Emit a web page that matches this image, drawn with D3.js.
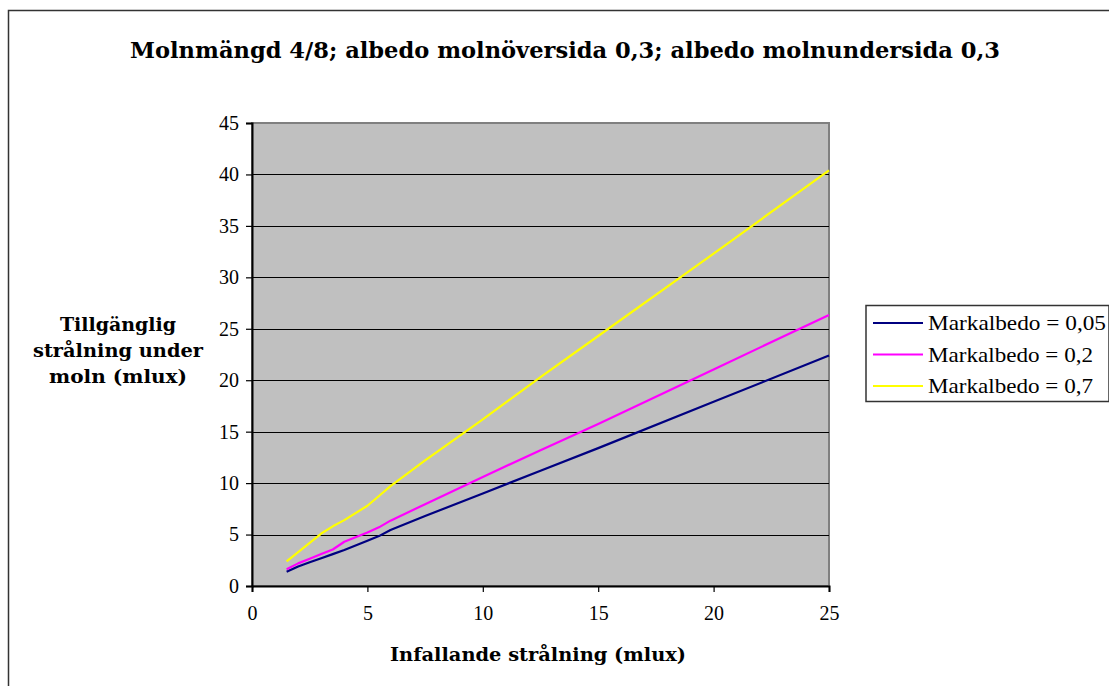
<!DOCTYPE html>
<html>
<head>
<meta charset="utf-8">
<script src="https://cdn.jsdelivr.net/npm/d3@7"></script>
<style>
  html, body { margin: 0; padding: 0; background: #fff; }
  svg { display: block; }
</style>
</head>
<body>
<script>
// Incoming radiation (mlux)
const xValues = [1.5, 2, 2.5, 3, 3.5, 4, 5, 5.5, 6, 7.5, 10, 12.5, 15, 20, 25];
// Radiation available under cloud (mlux), one series per ground albedo
const albedo005 = [1.39, 1.9, 2.3, 2.7, 3.1, 3.5, 4.4, 4.85, 5.45, 6.8, 9.0, 11.2, 13.4, 17.9, 22.4];
const albedo02  = [1.62, 2.2, 2.65, 3.1, 3.55, 4.3, 5.2, 5.7, 6.35, 7.95, 10.6, 13.2, 15.75, 21.05, 26.35];
const albedo07  = [2.4, 3.3, 4.2, 5.1, 5.8, 6.4, 7.8, 8.75, 9.7, 12.2, 16.2, 20.3, 24.3, 32.3, 40.4];
const seriesNames = ["Markalbedo = 0,05", "Markalbedo = 0,2", "Markalbedo = 0,7"];
const seriesColors = ["#000080", "#FF00FF", "#FFFF00"];
const xTicks = [0, 5, 10, 15, 20, 25];
const yTicks = [0, 5, 10, 15, 20, 25, 30, 35, 40, 45];

const title = "Molnmängd 4/8; albedo molnöversida 0,3; albedo molnundersida 0,3";
const xTitle = "Infallande strålning (mlux)";
const yTitleLines = ["Tillgänglig", "strålning under", "moln (mlux)"];

const W = 1109, H = 686;
const plot = { left: 252, right: 829, top: 123, bottom: 586 };
const serif = "'Liberation Serif', 'DejaVu Serif', serif";
const headFont = "'DejaVu Serif', serif";

const svg = d3.select("body").append("svg").attr("width", W).attr("height", H);

// Chart frame
svg.append("rect").attr("x", 8.5).attr("y", 10.5).attr("width", W + 20).attr("height", H + 20)
  .attr("fill", "#fff").attr("stroke", "#333").attr("stroke-width", 1.5);

const x = d3.scaleLinear().domain([0, 25]).range([plot.left, plot.right]);
const y = d3.scaleLinear().domain([0, 45]).range([plot.bottom, plot.top]);

// Plot background
svg.append("rect").attr("x", plot.left).attr("y", plot.top)
  .attr("width", plot.right - plot.left).attr("height", plot.bottom - plot.top)
  .attr("fill", "#C0C0C0").attr("stroke", "#808080").attr("stroke-width", 2);

// Horizontal gridlines
svg.append("g").selectAll("line").data(yTicks.filter(d => d > 0 && d < 45)).join("line")
  .attr("x1", plot.left).attr("x2", plot.right)
  .attr("y1", d => Math.round(y(d)) + 0.5).attr("y2", d => Math.round(y(d)) + 0.5)
  .attr("stroke", "#000").attr("stroke-width", 1);

// Axes
const yAxis = svg.append("g").attr("transform", `translate(${plot.left},0)`)
  .call(d3.axisLeft(y).tickValues(yTicks).tickSize(6).tickPadding(7).tickFormat(d3.format("d")));
const xAxis = svg.append("g").attr("transform", `translate(0,${plot.bottom})`)
  .call(d3.axisBottom(x).tickValues(xTicks).tickSize(6).tickPadding(14).tickFormat(d3.format("d")));
[xAxis, yAxis].forEach(g => {
  g.select(".domain").attr("stroke", "#000").attr("stroke-width", 2);
  g.selectAll(".tick line").attr("stroke", "#000").attr("stroke-width", 1.2);
  g.selectAll(".tick text").attr("font-family", serif).attr("font-size", 20).attr("fill", "#000");
});

// Series lines
const seriesData = [albedo005, albedo02, albedo07];
const line = d3.line().x((d, i) => x(xValues[i])).y(d => y(d));
svg.append("g").selectAll("path").data(seriesData).join("path")
  .attr("d", d => line(d)).attr("fill", "none")
  .attr("stroke", (d, i) => seriesColors[i]).attr("stroke-width", 2.2)
  .attr("stroke-linejoin", "round");

// Title
svg.append("text").attr("x", 565).attr("y", 58).attr("text-anchor", "middle")
  .attr("font-family", headFont).attr("font-weight", "bold").attr("font-size", 22)
  .attr("textLength", 870).attr("lengthAdjust", "spacingAndGlyphs")
  .text(title);

// X axis title
svg.append("text").attr("x", 538).attr("y", 661).attr("text-anchor", "middle")
  .attr("font-family", headFont).attr("font-weight", "bold").attr("font-size", 19)
  .attr("textLength", 296).attr("lengthAdjust", "spacingAndGlyphs")
  .text(xTitle);

// Y axis title
const yLens = [116, 170, 138];
svg.append("g").selectAll("text").data(yTitleLines).join("text")
  .attr("x", 118).attr("y", (d, i) => 331 + i * 26).attr("text-anchor", "middle")
  .attr("font-family", headFont).attr("font-weight", "bold").attr("font-size", 19)
  .attr("textLength", (d, i) => yLens[i]).attr("lengthAdjust", "spacingAndGlyphs")
  .text(d => d);

// Legend
const legendLens = [178, 165, 165];
const legend = svg.append("g");
legend.append("rect").attr("x", 866).attr("y", 305.5).attr("width", 243).attr("height", 96)
  .attr("fill", "#fff").attr("stroke", "#333").attr("stroke-width", 1.5);
const items = legend.selectAll("g.item").data(seriesNames).join("g").attr("class", "item")
  .attr("transform", (d, i) => `translate(0,${323 + i * 31.5})`);
items.append("line").attr("x1", 873).attr("x2", 923).attr("y1", 0).attr("y2", 0)
  .attr("stroke", (d, i) => seriesColors[i]).attr("stroke-width", 2);
items.append("text").attr("x", 928).attr("y", 7)
  .attr("font-family", serif).attr("font-size", 21).attr("fill", "#000")
  .attr("textLength", (d, i) => legendLens[i]).attr("lengthAdjust", "spacingAndGlyphs")
  .text(d => d);
</script>
</body>
</html>
